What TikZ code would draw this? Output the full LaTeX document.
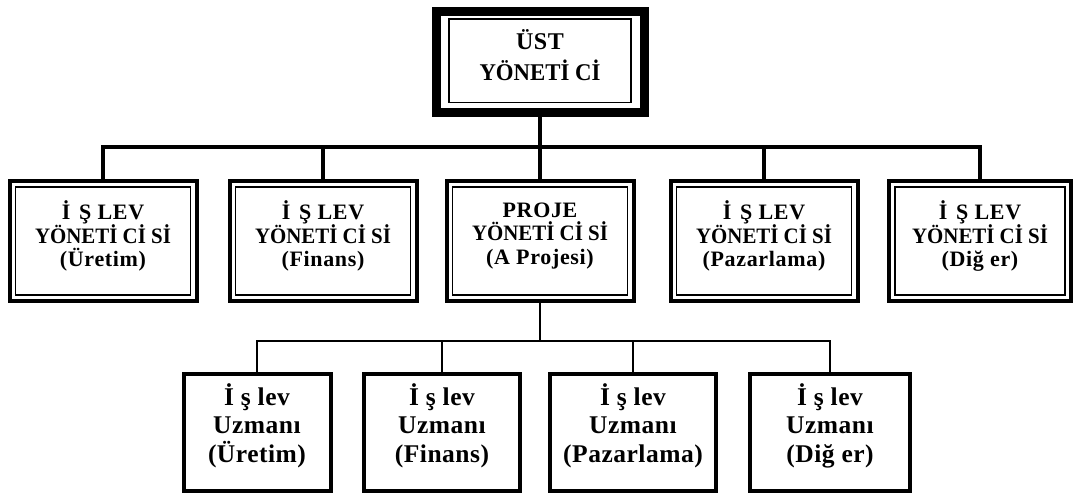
\documentclass[tikz,border=0pt]{standalone}
\usepackage{fontspec}
\setmainfont{Liberation Serif}
% a line set without extra tracking and slightly narrowed
\newcommand\tightline[1]{{\addfontfeature{LetterSpace=0,FakeStretch=0.95}#1}}
\begin{document}
\begin{tikzpicture}[x=1pt,y=-1pt,
  topbox/.style={draw,line width=9pt,outer sep=0pt,minimum width=208pt,minimum height=101pt},
  midbox/.style={draw,line width=4pt,outer sep=0pt,minimum width=187pt,minimum height=120pt},
  lowbox/.style={draw,line width=4pt,outer sep=0pt,minimum height=117pt},
  toptxt/.style={align=center,inner sep=0pt,yshift=7pt,
    font=\fontsize{24}{31}\selectfont\bfseries\addfontfeature{LetterSpace=2}},
  midtxt/.style={align=center,inner sep=0pt,yshift=5pt,
    font=\fontsize{22}{23.5}\selectfont\bfseries\addfontfeature{LetterSpace=3}},
  lowtxt/.style={align=center,inner sep=0pt,yshift=7pt,
    font=\fontsize{25.5}{28.5}\selectfont\bfseries\addfontfeature{LetterSpace=2}},
  inner/.style={line width=1.5pt},
  conn/.style={line width=4pt},
  conn2/.style={line width=2.6pt}]
\useasboundingbox[fill=white] (0,0) rectangle (1085,495);

% top manager
\node[topbox,label={[toptxt]center:{ÜST\\\tightline{YÖNETİ Cİ}}}] (top) at (540,62) {};
\draw[inner] ([shift={(13pt,-7.5pt)}]top.north west) rectangle ([shift={(-13pt,10pt)}]top.south east);

% middle row
\node[midbox,label={[midtxt]center:{İ\hspace{0.4em}Ş LEV\\\tightline{YÖNETİ Cİ Sİ}\\(Üretim)}}] (m1) at (103,241) {};
\node[midbox,label={[midtxt]center:{İ\hspace{0.4em}Ş LEV\\\tightline{YÖNETİ Cİ Sİ}\\(Finans)}}] (m2) at (323,241) {};
\node[midbox,label={[midtxt]center:{PROJE\\\tightline{YÖNETİ Cİ Sİ}\\(A Projesi)}}] (m3) at (540,241) {};
\node[midbox,label={[midtxt]center:{İ\hspace{0.4em}Ş LEV\\\tightline{YÖNETİ Cİ Sİ}\\(Pazarlama)}}] (m4) at (764,241) {};
\node[midbox,minimum width=182pt,label={[midtxt]center:{İ\hspace{0.4em}Ş LEV\\\tightline{YÖNETİ Cİ Sİ}\\(Diğ er)}}] (m5) at (980,241) {};
\foreach \n in {m1,m2,m3,m4,m5}
  \draw[inner] ([shift={(6pt,-6pt)}]\n.north west) rectangle ([shift={(-6pt,6pt)}]\n.south east);

% bottom row
\node[lowbox,minimum width=147pt,label={[lowtxt]center:{İ ş lev\\Uzmanı\\(Üretim)}}] (b1) at (257,432.5) {};
\node[lowbox,minimum width=156pt,label={[lowtxt]center:{İ ş lev\\Uzmanı\\(Finans)}}] (b2) at (442,432.5) {};
\node[lowbox,minimum width=166pt,label={[lowtxt]center:{İ ş lev\\Uzmanı\\(Pazarlama)}}] (b3) at (633,432.5) {};
\node[lowbox,minimum width=160pt,label={[lowtxt]center:{İ ş lev\\Uzmanı\\(Diğ er)}}] (b4) at (830,432.5) {};

% connectors: top manager to middle row
\coordinate (bus) at (540,147);
\draw[conn] (top.south) -- (bus);
\draw[conn] (m1.north) |- (bus) -| (m5.north);
\foreach \n in {m2,m3,m4}
  \draw[conn] (\n.north) -- (\n.north |- bus);

% connectors: project manager to specialists
\coordinate (bus2) at (540,341);
\draw[conn2] (m3.south) -- (bus2);
\draw[conn2] (b1.north) |- (bus2) -| (b4.north);
\foreach \n in {b2,b3}
  \draw[conn2] (\n.north) -- (\n.north |- bus2);
\end{tikzpicture}
\end{document}
